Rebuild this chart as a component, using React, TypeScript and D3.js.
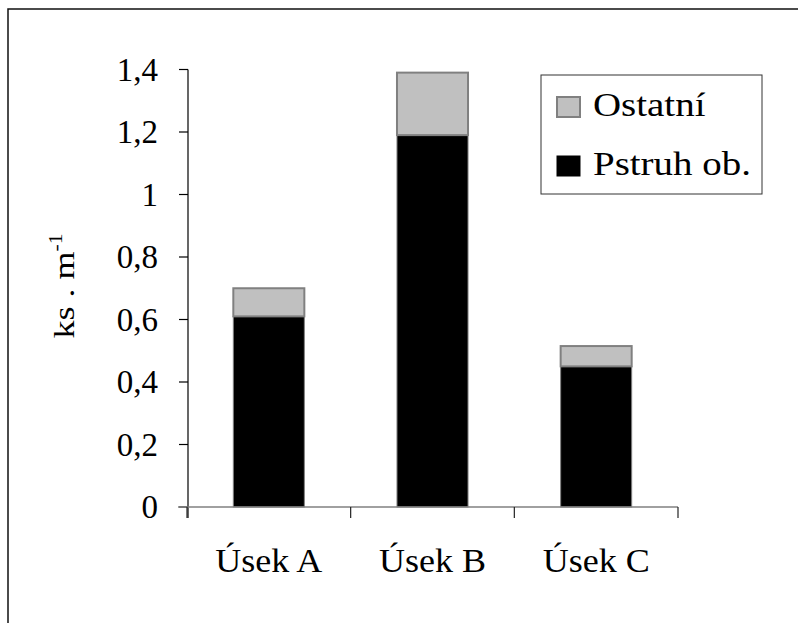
import React from 'react';
import * as d3 from 'd3';

const categories = ['Úsek A', 'Úsek B', 'Úsek C'];
const pstruh = [0.61, 1.19, 0.45];
const ostatni = [0.09, 0.2, 0.065];
const seriesNames = ['Ostatní', 'Pstruh ob.'];
const yTicks = [0, 0.2, 0.4, 0.6, 0.8, 1, 1.2, 1.4];

const serif = { fontFamily: "'Liberation Serif'" };

const App = () => {
  const width = 798;
  const height = 623;

  const y = d3.scaleLinear().domain([0, 1.4]).range([507, 69.5]);
  const x = d3.scaleBand().domain(categories).range([187, 678])
    .paddingInner(0.566).paddingOuter(0.283);
  const bounds = d3.range(categories.length + 1).map(i => 187 + i * x.step());
  const fmt = (d: number) => d3.format('.1~f')(d).replace('.', ',');

  const legColors = [
    { fill: '#c0c0c0', stroke: '#808080', sw: 2 },
    { fill: '#000', stroke: '#000', sw: 1 }
  ];

  return (
    <svg width={width} height={height} style={{ position: 'absolute', left: 0, top: 0, background: 'white' }}>
      {/* outer frame, runs off the right and bottom edges */}
      <rect x={8} y={9} width={820} height={640} fill="none" stroke="#111" strokeWidth={1.5} />

      {/* bars */}
      {categories.map((c, i) => (
        <g key={c}>
          <rect x={x(c)} y={y(pstruh[i])} width={x.bandwidth()} height={y(0) - y(pstruh[i])}
            fill="#000" stroke="#808080" strokeWidth={1} />
          <rect x={x(c)} y={y(pstruh[i] + ostatni[i])} width={x.bandwidth()}
            height={y(pstruh[i]) - y(pstruh[i] + ostatni[i])}
            fill="#c0c0c0" stroke="#808080" strokeWidth={2} />
        </g>
      ))}

      {/* y axis */}
      <line x1={188} x2={188} y1={y(1.4)} y2={y(0) + 11} stroke="#000" strokeWidth={1.2} />
      {yTicks.map(t => (
        <g key={t}>
          <line x1={179} x2={188} y1={y(t)} y2={y(t)} stroke="#000" strokeWidth={1.2} />
          <text x={158} y={y(t) + 11} textAnchor="end" fontSize={33} style={serif}>{fmt(t)}</text>
        </g>
      ))}

      {/* x axis */}
      <line x1={178} x2={678} y1={y(0)} y2={y(0)} stroke="#808080" strokeWidth={1.5} />
      {bounds.map(b => (
        <line key={b} x1={b} x2={b} y1={y(0)} y2={y(0) + 11} stroke="#222" strokeWidth={1.2} />
      ))}
      {categories.map(c => (
        <text key={c} transform={`translate(${x(c)! + x.bandwidth() / 2},572) scale(1.06,1)`}
          textAnchor="middle" fontSize={34} style={serif}>{c}</text>
      ))}

      {/* y label */}
      <text transform="translate(74,286) rotate(-90) scale(1.2,1)" textAnchor="middle" fontSize={30} style={serif}>
        <tspan>ks . m</tspan>
        <tspan dy={-12} fontSize={18}>-1</tspan>
      </text>

      {/* legend */}
      <rect x={541} y={75} width={221} height={119} fill="white" stroke="#333" strokeWidth={1} />
      {seriesNames.map((name, i) => (
        <g key={name}>
          <rect x={557} y={97 + i * 59} width={23} height={20}
            fill={legColors[i].fill} stroke={legColors[i].stroke} strokeWidth={legColors[i].sw} />
          <text transform={`translate(593,${116 + i * 59}) scale(1.18,1)`} fontSize={33} style={serif}>{name}</text>
        </g>
      ))}
    </svg>
  );
};

export default App;
